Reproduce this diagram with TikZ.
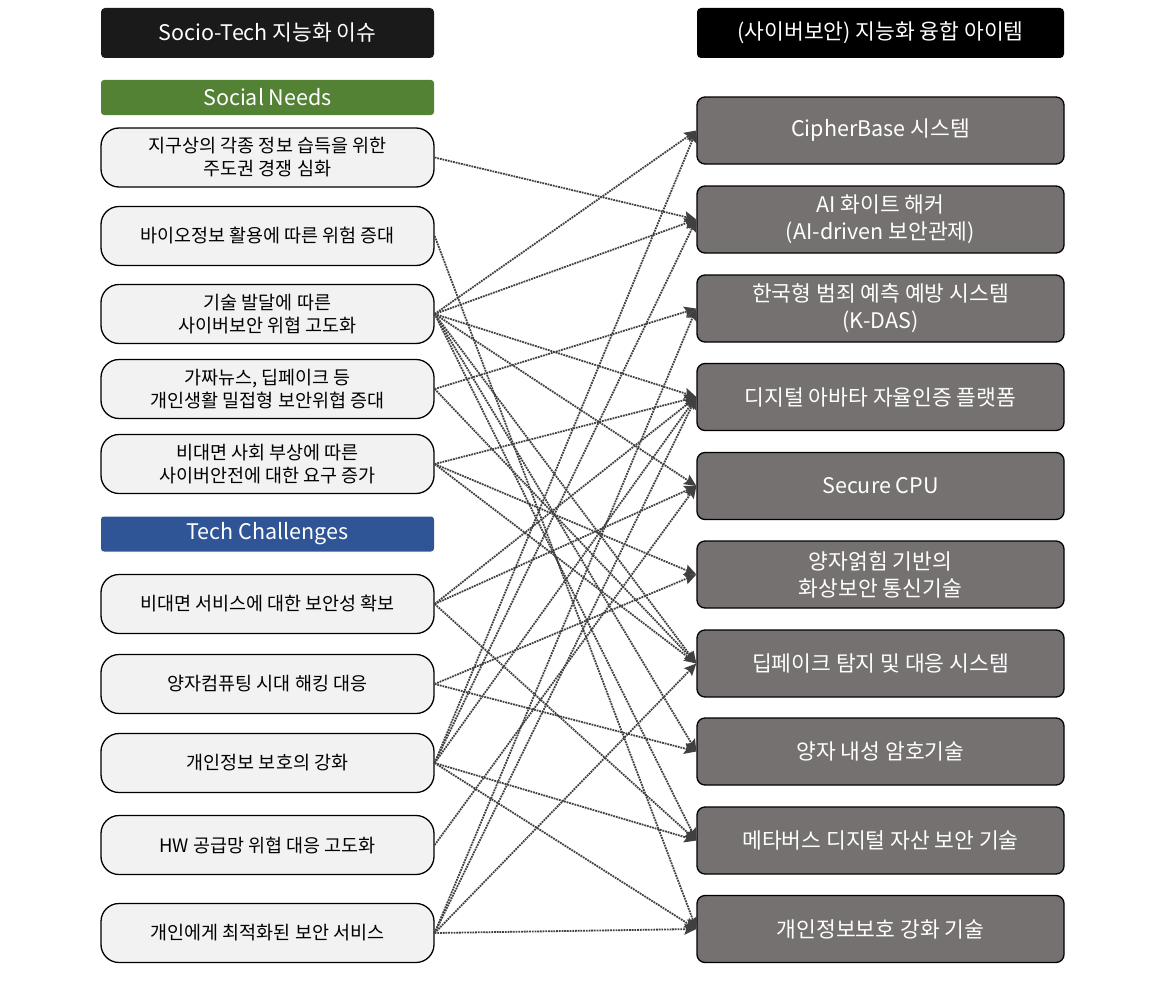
\documentclass[tikz,border=0pt]{standalone}
\usepackage{fontspec}
\setmainfont{Noto Sans CJK KR}
\usetikzlibrary{arrows.meta}
\definecolor{hdrL}{HTML}{1A1A1A}
\definecolor{hdrR}{HTML}{000000}
\definecolor{needs}{HTML}{548235}
\definecolor{tech}{HTML}{2F5597}
\definecolor{lfill}{HTML}{F2F2F2}
\definecolor{rfill}{HTML}{767171}
\definecolor{conncol}{HTML}{404040}
\begin{document}
\begin{tikzpicture}[x=1pt,y=-1pt,
  hdr/.style={rounded corners=4pt, minimum height=50pt, text=white, inner sep=0pt, font=\fontsize{21.5}{26}\selectfont},
  sect/.style={rounded corners=3pt, minimum width=333pt, minimum height=35pt, text=white, inner sep=0pt, font=\fontsize{21.5}{26}\selectfont},
  lbox/.style={draw=black, line width=1.3pt, fill=lfill, rounded corners=18pt, minimum width=333pt, minimum height=59pt, align=center, inner sep=0pt, font=\fontsize{18.5}{23}\selectfont},
  rbox/.style={draw=black, line width=1.3pt, fill=rfill, rounded corners=8pt, minimum width=367pt, minimum height=67pt, align=center, inner sep=0pt, text=white, font=\fontsize{21.5}{27}\selectfont},
  conn/.style={draw=conncol, line width=1.8pt, dash pattern=on 1.8pt off 0.9pt, -{Stealth[length=12pt,width=11pt,inset=2pt]}}
]
\useasboundingbox (0,0) rectangle (1154,982);
% headers
\node[hdr, fill=hdrL, minimum width=333pt] (hl) at (267.5,33) {Socio-Tech 지능화 이슈};
\node[hdr, fill=hdrR, minimum width=367pt] (hr) at (880.5,33) {(사이버보안) 지능화 융합 아이템};
\node[sect, fill=needs] (sn) at (267.5,97.5) {Social Needs};
\node[sect, fill=tech] (tc) at (267.5,534) {Tech Challenges};
% left boxes
\node[lbox] (L1) at (267.5,157.5) {지구상의 각종 정보 습득을 위한\\주도권 경쟁 심화};
\node[lbox] (L2) at (267.5,236) {바이오정보 활용에 따른 위험 증대};
\node[lbox] (L3) at (267.5,314) {기술 발달에 따른\\사이버보안 위협 고도화};
\node[lbox] (L4) at (267.5,389) {가짜뉴스, 딥페이크 등\\개인생활 밀접형 보안위협 증대};
\node[lbox] (L5) at (267.5,464) {비대면 사회 부상에 따른\\사이버안전에 대한 요구 증가};
\node[lbox] (L6) at (267.5,604) {비대면 서비스에 대한 보안성 확보};
\node[lbox] (L7) at (267.5,684) {양자컴퓨팅 시대 해킹 대응};
\node[lbox] (L8) at (267.5,763) {개인정보 보호의 강화};
\node[lbox] (L9) at (267.5,845) {HW 공급망 위협 대응 고도화};
\node[lbox] (L10) at (267.5,933) {개인에게 최적화된 보안 서비스};
% right boxes
\node[rbox] (R1) at (880.5,130.5) {CipherBase 시스템};
\node[rbox] (R2) at (880.5,219.5) {AI 화이트 해커\\(AI-driven 보안관제)};
\node[rbox] (R3) at (880.5,308.5) {한국형 범죄 예측 예방 시스템\\(K-DAS)};
\node[rbox] (R4) at (880.5,397) {디지털 아바타 자율인증 플랫폼};
\node[rbox] (R5) at (880.5,486) {Secure CPU};
\node[rbox] (R6) at (880.5,574.5) {양자얽힘 기반의\\화상보안 통신기술};
\node[rbox] (R7) at (880.5,663.5) {딥페이크 탐지 및 대응 시스템};
\node[rbox] (R8) at (880.5,751.5) {양자 내성 암호기술};
\node[rbox] (R9) at (880.5,840.5) {메타버스 디지털 자산 보안 기술};
\node[rbox] (R10) at (880.5,929) {개인정보보호 강화 기술};
% connectors
\draw[conn] (L1.east) -- (R2.west);
\draw[conn] (L2.east) -- (R10.west);
\foreach \r in {R1,R2,R4,R5,R7,R8,R9} \draw[conn] (L3.east) -- (\r.west);
\foreach \r in {R3,R7} \draw[conn] (L4.east) -- (\r.west);
\foreach \r in {R4,R6,R7} \draw[conn] (L5.east) -- (\r.west);
\foreach \r in {R4,R5,R9} \draw[conn] (L6.east) -- (\r.west);
\foreach \r in {R6,R8} \draw[conn] (L7.east) -- (\r.west);
\foreach \r in {R1,R2,R4,R9,R10} \draw[conn] (L8.east) -- (\r.west);
\draw[conn] (L9.east) -- (R5.west);
\foreach \r in {R3,R4,R7,R10} \draw[conn] (L10.east) -- (\r.west);
\end{tikzpicture}
\end{document}
